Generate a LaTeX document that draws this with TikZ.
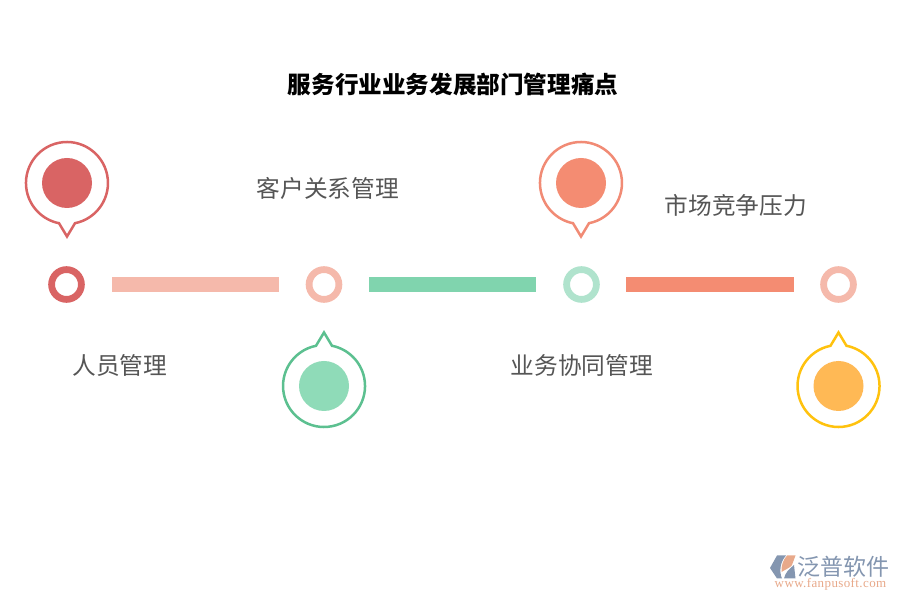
\documentclass[tikz,border=0pt]{standalone}
\usepackage{fontspec}
\setmainfont{Liberation Serif}
\newfontfamily\cjk{Noto Sans CJK SC}
\usetikzlibrary{calc}
\definecolor{redc}{HTML}{D96464}
\definecolor{salmon}{HTML}{F5B9AB}
\definecolor{greenbar}{HTML}{80D4AE}
\definecolor{greenpale}{HTML}{B0E3CD}
\definecolor{greenline}{HTML}{5CC090}
\definecolor{greenfill}{HTML}{8FDBB8}
\definecolor{orangec}{HTML}{F48C72}
\definecolor{orangeline}{HTML}{F18B75}
\definecolor{yellowline}{HTML}{FFC20E}
\definecolor{yellowfill}{HTML}{FFB955}
\definecolor{labelc}{HTML}{555555}
\definecolor{logogray}{HTML}{8496B0}
\definecolor{logoorange}{HTML}{E8A98A}
\tikzset{
  x=1pt,y=1pt,
  titletext/.style={font=\cjk\bfseries\fontsize{23.6}{26}\selectfont,text=black,inner sep=0pt},
  labeltext/.style={font=\cjk\fontsize{23.7}{26}\selectfont,text=labelc,inner sep=0pt},
  ring/.style={circle,draw=#1,line width=6.8pt,minimum size=29.8pt,inner sep=0pt,fill=white},
  bar/.style={fill=#1,minimum height=15pt,inner sep=0pt,draw=none,rectangle},
  dot/.style={circle,fill=#1,minimum size=50pt,inner sep=0pt,draw=none},
  pinline/.style={draw=#1,line width=2.5pt,fill=white,line join=miter},
  pics/pin/.style args={#1/#2}{code={
    \path[pinline=#1] (-8,-40.2) -- (0,-53.5) -- (8,-40.2) arc[start angle=-78.7,end angle=258.7,radius=41] -- cycle;
  }},
}
\begin{document}
\begin{tikzpicture}
\useasboundingbox (0,0) rectangle (900,600);
\node[titletext] (title) at (453,516) {服务行业业务发展部门管理痛点};
% pins
\pic at (67,417) {pin={redc/0}};
\node[dot=redc] (d1) at (67,417) {};
\pic[rotate=180] at (324,214) {pin={greenline/0}};
\node[dot=greenfill] (d2) at (324,214) {};
\pic at (581,417) {pin={orangeline/0}};
\node[dot=orangec] (d3) at (581,417) {};
\pic[rotate=180] at (838.5,214) {pin={yellowline/0}};
\node[dot=yellowfill] (d4) at (838.5,214) {};
% rings
\node[ring=redc] (r1) at (66.5,315.5) {};
\node[ring=salmon] (r2) at (324,315.5) {};
\node[ring=greenpale] (r3) at (581.5,315.5) {};
\node[ring=salmon] (r4) at (838.5,315.5) {};
% bars
\node[bar=salmon,minimum width=167pt] (b1) at (195.5,315.5) {};
\node[bar=greenbar,minimum width=167pt] (b2) at (452.5,315.5) {};
\node[bar=orangec,minimum width=168pt] (b3) at (710,315.5) {};
% labels
\node[labeltext] (l1) at (119.7,234.3) {人员管理};
\node[labeltext] (l2) at (327.7,411.3) {客户关系管理};
\node[labeltext] (l3) at (581.7,234.3) {业务协同管理};
\node[labeltext] (l4) at (735.7,394.3) {市场竞争压力};
% logo
\fill[logogray] (777,44.5) -- (770,32) -- (777,21.5) -- (782,21.5) .. controls (779,28) and (780,38) .. (786,44.5) -- cycle;
\fill[logoorange] (787,44.5) -- (795.5,44.5) -- (792,35) .. controls (790,32) and (786,31) .. (781.5,28) .. controls (781,34) and (783,40) .. (787,44.5) -- cycle;
\fill[logogray] (784,21.5) .. controls (785,27) and (789,31) .. (794,35) -- (795.5,21.5) -- cycle;
\node[font=\cjk\fontsize{23}{25}\selectfont,text=logogray,inner sep=0pt] (lg) at (843,33) {泛普软件};
\node[font=\fontsize{13}{15}\selectfont\addfontfeatures{LetterSpace=3},text=logoorange,inner sep=0pt] (url) at (830.5,15.5) {www.fanpusoft.com};
\end{tikzpicture}
\end{document}
